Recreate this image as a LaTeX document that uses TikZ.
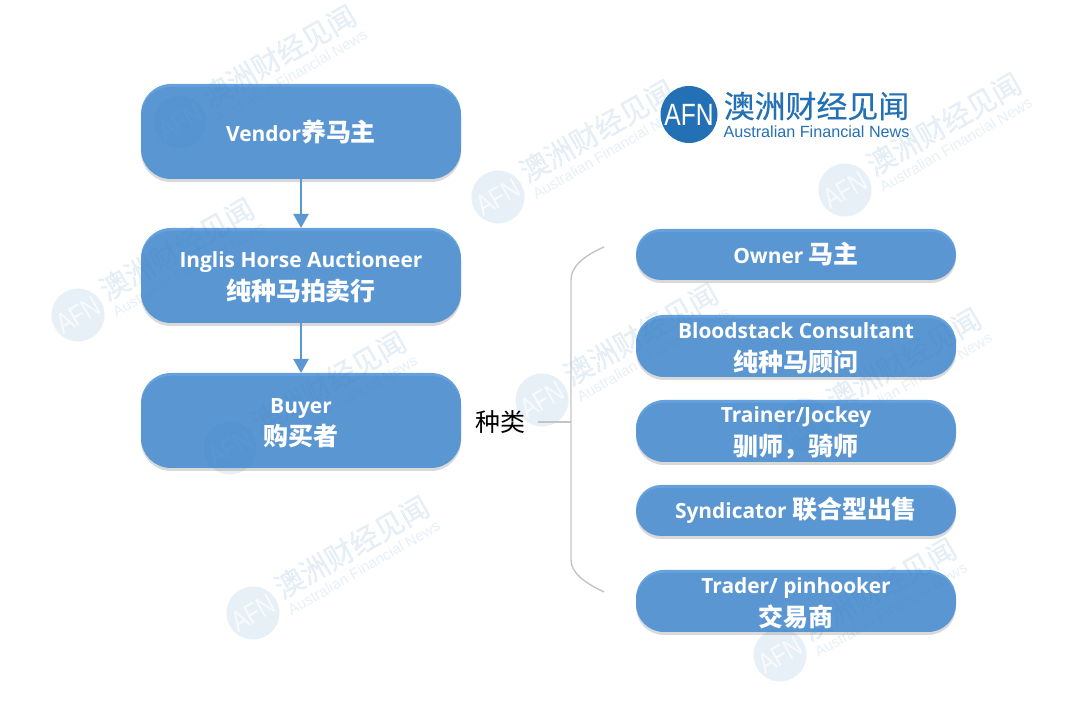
\documentclass[tikz,border=0pt]{standalone}
\usepackage{fontspec}
\setmainfont{Open Sans}
\newfontfamily\cjk{Noto Sans CJK SC}
\newfontfamily\logocjk[FakeBold=.35]{Noto Sans CJK SC}
\newfontfamily\logofont{Liberation Sans}
\newfontfamily\afnfont[FakeStretch=.8]{Liberation Sans}
\usetikzlibrary{arrows.meta,shadows}
\definecolor{boxblue}{HTML}{3181D1}
\definecolor{linkblue}{HTML}{5B97D3}
\definecolor{afnblue}{HTML}{2470B4}
\definecolor{bracketgray}{HTML}{C4C4C4}
\newcommand{\zh}[1]{{\cjk\fontsize{14.2}{18.6}\selectfont #1}}
\newcommand{\twolines}[2]{\rule{0pt}{11.5pt}#1\\\zh{#2}}
\tikzset{
  bigbox/.style={rectangle,rounded corners=.6cm,fill=boxblue,fill opacity=.75,text opacity=1,
    text=white,align=center,outer sep=0,
    minimum width=6.4cm,minimum height=1.9cm,inner sep=0,
    font=\bfseries\fontsize{11.9}{18.6}\selectfont,
    drop shadow={shadow xshift=0cm,shadow yshift=-.06cm,fill=black,opacity=.15}},
  smallbox/.style={bigbox,rounded corners=.5cm,minimum height=1.02cm},
  tallbox/.style={bigbox,rounded corners=.56cm,minimum height=1.24cm},
  link/.style={draw=linkblue,line width=1.4pt,-{Triangle[length=.28cm,width=.3cm]}},
  bracket/.style={draw=bracketgray,line width=.8pt},
  afnletter/.style={text=white},
  afnlogo/.pic={
    \node (-disc) at (0,0) [circle,fill=afnblue,minimum size=1.14cm,inner sep=0]{};
    \node (-letters) at (0,0) [afnletter,font=\afnfont\fontsize{17.5}{18}\selectfont]{AFN};
    \node (-name) at (2.55,.17) [text=afnblue,font=\logocjk\fontsize{17.6}{18}\selectfont,inner sep=0]{澳洲财经见闻};
    \node (-news) at (2.55,-.35) [text=afnblue,font=\logofont\fontsize{9.2}{9}\selectfont,inner sep=0]{Australian Financial News};
  }
}
\begin{document}
\begin{tikzpicture}
  \useasboundingbox (0,0) rectangle (21.6,14.56);

  % the faint marks under everything
  \foreach \mx/\my [count=\i] in {3.6/12.12,9.96/10.62,16.9/10.76,1.56/8.26,10.84/6.56,4.6/5.6,5.06/2.3,15.6/1.46,16.1/6.06}
    \pic (mark\i) at (\mx,\my) [rotate=30,scale=.93,transform shape,opacity=.11,afnletter/.style={text=white,text opacity=.7}] {afnlogo};

  \node (vendor) at (6.02,11.93) [bigbox]{Vendor\zh{养马主}};
  \node (inglis) at (6.02,9.05) [bigbox]{\twolines{Inglis Horse Auctioneer}{纯种马拍卖行}};
  \node (buyer) at (6.02,6.15) [bigbox]{\twolines{Buyer}{购买者}};

  \node (owner) at (15.92,9.47) [smallbox]{Owner \zh{马主}};
  \node (blood) at (15.92,7.64) [tallbox]{\twolines{Bloodstack Consultant}{纯种马顾问}};
  \node (trainer) at (15.92,5.94) [tallbox]{\twolines{Trainer/Jockey}{驯师，骑师}};
  \node (synd) at (15.92,4.35) [smallbox]{Syndicator \zh{联合型出售}};
  \node (trader) at (15.92,2.54) [tallbox]{\twolines{Trader/ pinhooker}{交易商}};

  \draw[link] (vendor) -- (inglis);
  \draw[link] (inglis) -- (buyer);

  % bracket of the kinds
  \node (kind) at (10,6.12) [inner sep=.26cm,font=\cjk\fontsize{14.2}{15}\selectfont]{种类};
  \coordinate (spine) at (11.42,6.12);
  \coordinate (top) at (12.08,9.62);
  \coordinate (bot) at (12.08,2.72);
  \draw[bracket] (top) .. controls (11.7,9.45) and (11.42,9.25) .. (11.42,8.96)
    -- (11.42,3.36) .. controls (11.42,3.1) and (11.7,2.9) .. (bot);
  \draw[bracket] (kind) -- (spine);

  \pic (logo) at (13.78,12.27) {afnlogo};
\end{tikzpicture}
\end{document}
